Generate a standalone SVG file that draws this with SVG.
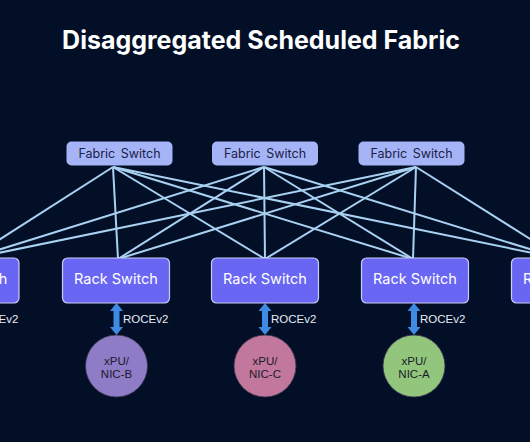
<svg xmlns="http://www.w3.org/2000/svg" width="530" height="442" viewBox="0 0 530 442">
<style>
.fs rect{fill:#a5b4f7;}
.fs text{font-family:Inter,"Liberation Sans",sans-serif;font-size:12.5px;fill:#1b2145;text-anchor:middle;word-spacing:2px;}
.rs rect{fill:#6a66f4;stroke:#c9cdf5;stroke-width:1.2;}
.rs text{font-family:Inter,"Liberation Sans",sans-serif;font-size:14.5px;fill:#ffffff;text-anchor:middle;}
.links line{stroke:#a9d2f2;stroke-width:2;}
.nic circle{stroke:#3a3350;stroke-width:0.8;}
.nic text{font-family:"Liberation Sans",Arial,sans-serif;font-size:11.5px;fill:#1a1a2a;text-anchor:middle;}
.lbl{font-family:"Liberation Sans",Arial,sans-serif;font-size:11.5px;fill:#e8ecf5;}
.arr{fill:#3f8ae2;}
</style>
<defs>
<path id="dbl" class="arr" d="M0,-16 L6.5,-8 L3,-8 L3,8 L6.5,8 L0,16 L-6.5,8 L-3,8 L-3,-8 L-6.5,-8 Z"/>
</defs>
<rect width="530" height="442" fill="#020f27"/>
<text x="261" y="49" font-family="Inter,'Liberation Sans',sans-serif" font-weight="bold" font-size="25" fill="#ffffff" text-anchor="middle">Disaggregated Scheduled Fabric</text>
<g id="connectors" class="links">
<line x1="113" y1="167" x2="-31" y2="259"/>
<line x1="113" y1="167" x2="118" y2="259"/>
<line x1="113" y1="167" x2="265" y2="259"/>
<line x1="113" y1="167" x2="413" y2="259"/>
<line x1="113" y1="167" x2="562" y2="259"/>
<line x1="264" y1="167" x2="-31" y2="259"/>
<line x1="264" y1="167" x2="118" y2="259"/>
<line x1="264" y1="167" x2="265" y2="259"/>
<line x1="264" y1="167" x2="413" y2="259"/>
<line x1="264" y1="167" x2="562" y2="259"/>
<line x1="416" y1="167" x2="-31" y2="259"/>
<line x1="416" y1="167" x2="118" y2="259"/>
<line x1="416" y1="167" x2="265" y2="259"/>
<line x1="416" y1="167" x2="413" y2="259"/>
<line x1="416" y1="167" x2="562" y2="259"/>
<use href="#dbl" x="-33" y="319"/>
<use href="#dbl" x="116.5" y="319"/>
<use href="#dbl" x="265" y="319"/>
<use href="#dbl" x="414" y="319"/>
</g>
<g id="fs1" class="fs"><rect x="66.5" y="141.5" width="106" height="24" rx="5"/><text x="119.5" y="158">Fabric Switch</text></g>
<g id="fs2" class="fs"><rect x="212" y="141.5" width="106" height="24" rx="5"/><text x="265" y="158">Fabric Switch</text></g>
<g id="fs3" class="fs"><rect x="358.5" y="141.5" width="106" height="24" rx="5"/><text x="411.5" y="158">Fabric Switch</text></g>
<g id="rs1" class="rs"><rect x="-88" y="258" width="107" height="45" rx="5"/><text x="-34.5" y="284">Rack Switch</text></g>
<g id="rs2" class="rs"><rect x="62.5" y="258" width="107" height="45" rx="5"/><text x="116" y="284">Rack Switch</text></g>
<g id="rs3" class="rs"><rect x="211.5" y="258" width="107" height="45" rx="5"/><text x="265" y="284">Rack Switch</text></g>
<g id="rs4" class="rs"><rect x="361.5" y="258" width="107" height="45" rx="5"/><text x="415" y="284">Rack Switch</text></g>
<g id="rs5" class="rs"><rect x="511.5" y="258" width="107" height="45" rx="5"/><text x="565" y="284">Rack Switch</text></g>
<text class="lbl" x="-27" y="323">ROCEv2</text>
<text class="lbl" x="123" y="323">ROCEv2</text>
<text class="lbl" x="271" y="323">ROCEv2</text>
<text class="lbl" x="420" y="323">ROCEv2</text>
<g id="nicb" class="nic"><circle cx="116.5" cy="366" r="31" fill="#8e7cc6"/><text x="116.5" y="365">xPU/</text><text x="116.5" y="378">NIC-B</text></g>
<g id="nicc" class="nic"><circle cx="265" cy="366" r="31" fill="#c2779c"/><text x="265" y="365">xPU/</text><text x="265" y="378">NIC-C</text></g>
<g id="nica" class="nic"><circle cx="414" cy="366" r="31" fill="#92c67c"/><text x="414" y="365">xPU/</text><text x="414" y="378">NIC-A</text></g>
</svg>
